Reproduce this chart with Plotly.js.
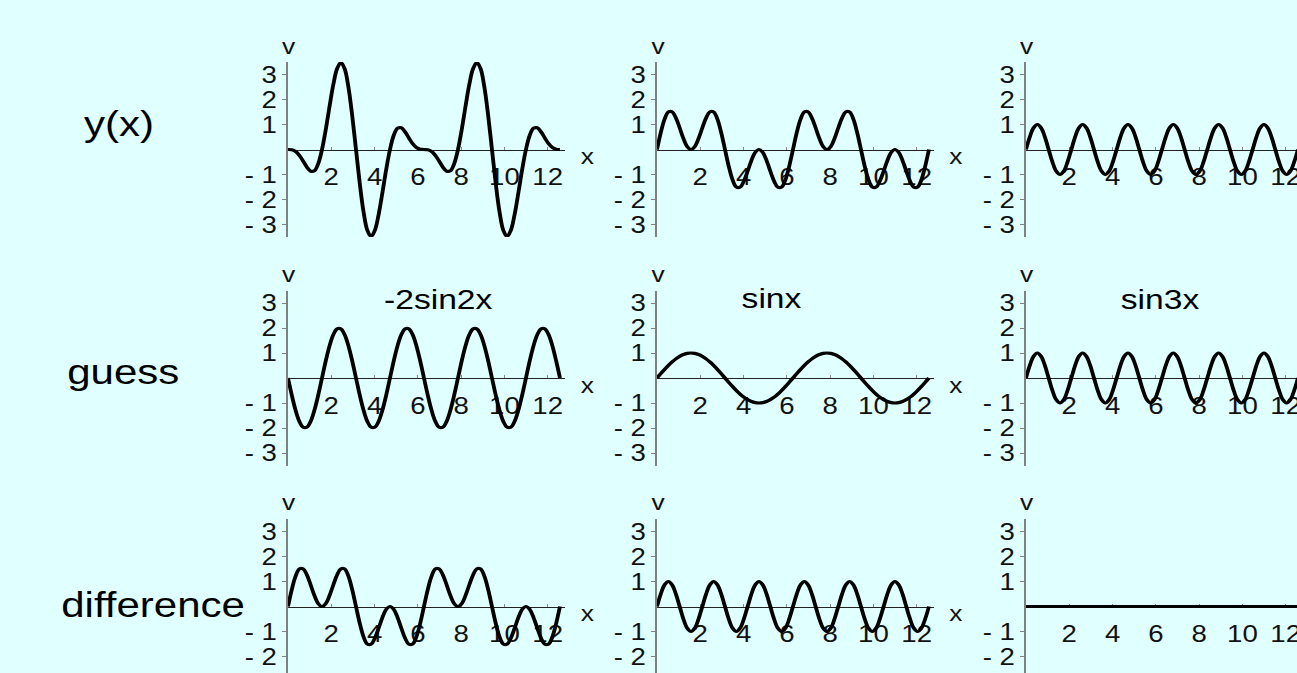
<!DOCTYPE html>
<html>
<head>
<meta charset="utf-8">
<script src="https://cdn.plot.ly/plotly-3.0.1.min.js"></script>
<style>
  html, body { margin: 0; padding: 0; overflow: hidden; background: #E0FFFF; }
  #chart { width: 1100px; height: 700px; transform: scaleX(1.2); transform-origin: 0 0; }
</style>
</head>
<body>
<div id="chart"></div>
<script>
// ---------- data (x in radians, 0 .. 4*pi) ----------
const xVals = [
  0, 0.1745, 0.3491, 0.5236, 0.6981, 0.8727, 1.0472, 1.2217, 1.3963, 1.5708,
  1.7453, 1.9199, 2.0944, 2.2689, 2.4435, 2.6180, 2.7925, 2.9671, 3.1416, 3.3161,
  3.4907, 3.6652, 3.8397, 4.0143, 4.1888, 4.3633, 4.5379, 4.7124, 4.8869, 5.0615,
  5.2360, 5.4105, 5.5851, 5.7596, 5.9341, 6.1087, 6.2832, 6.4577, 6.6323, 6.8068,
  6.9813, 7.1558, 7.3304, 7.5049, 7.6794, 7.8540, 8.0285, 8.2030, 8.3776, 8.5521,
  8.7266, 8.9012, 9.0757, 9.2502, 9.4248, 9.5993, 9.7738, 9.9484, 10.1229, 10.2974,
  10.4720, 10.6465, 10.8210, 10.9956, 11.1701, 11.3446, 11.5192, 11.6937, 11.8682, 12.0428,
  12.2173, 12.3918, 12.5664
];

// y(x)
const yOfX = [
  0, -0.0104, -0.0776, -0.2320, -0.4608, -0.7036, -0.8660, -0.8459, -0.5652, 0,
  0.8028, 1.7253, 2.5980, 3.2356, 3.4784, 3.2320, 2.4936, 1.3576, 0, -1.3576,
  -2.4936, -3.2320, -3.4784, -3.2356, -2.5980, -1.7253, -0.8028, 0, 0.5652, 0.8459,
  0.8660, 0.7036, 0.4608, 0.2320, 0.0776, 0.0104, 0, -0.0104, -0.0776, -0.2320,
  -0.4608, -0.7036, -0.8660, -0.8459, -0.5652, 0, 0.8028, 1.7253, 2.5980, 3.2356,
  3.4784, 3.2320, 2.4936, 1.3576, 0, -1.3576, -2.4936, -3.2320, -3.4784, -3.2356,
  -2.5980, -1.7253, -0.8028, 0, 0.5652, 0.8459, 0.8660, 0.7036, 0.4608, 0.2320,
  0.0776, 0.0104, 0
];

// guess 1: -2sin2x
const guessMinus2sin2x = [
  0, -0.6840, -1.2856, -1.7321, -1.9696, -1.9696, -1.7321, -1.2856, -0.6840, 0,
  0.6840, 1.2856, 1.7321, 1.9696, 1.9696, 1.7321, 1.2856, 0.6840, 0, -0.6840,
  -1.2856, -1.7321, -1.9696, -1.9696, -1.7321, -1.2856, -0.6840, 0, 0.6840, 1.2856,
  1.7321, 1.9696, 1.9696, 1.7321, 1.2856, 0.6840, 0, -0.6840, -1.2856, -1.7321,
  -1.9696, -1.9696, -1.7321, -1.2856, -0.6840, 0, 0.6840, 1.2856, 1.7321, 1.9696,
  1.9696, 1.7321, 1.2856, 0.6840, 0, -0.6840, -1.2856, -1.7321, -1.9696, -1.9696,
  -1.7321, -1.2856, -0.6840, 0, 0.6840, 1.2856, 1.7321, 1.9696, 1.9696, 1.7321,
  1.2856, 0.6840, 0
];

// guess 2: sinx
const guessSinx = [
  0, 0.1736, 0.3420, 0.5, 0.6428, 0.7660, 0.8660, 0.9397, 0.9848, 1,
  0.9848, 0.9397, 0.8660, 0.7660, 0.6428, 0.5, 0.3420, 0.1736, 0, -0.1736,
  -0.3420, -0.5, -0.6428, -0.7660, -0.8660, -0.9397, -0.9848, -1, -0.9848, -0.9397,
  -0.8660, -0.7660, -0.6428, -0.5, -0.3420, -0.1736, 0, 0.1736, 0.3420, 0.5,
  0.6428, 0.7660, 0.8660, 0.9397, 0.9848, 1, 0.9848, 0.9397, 0.8660, 0.7660,
  0.6428, 0.5, 0.3420, 0.1736, 0, -0.1736, -0.3420, -0.5, -0.6428, -0.7660,
  -0.8660, -0.9397, -0.9848, -1, -0.9848, -0.9397, -0.8660, -0.7660, -0.6428, -0.5,
  -0.3420, -0.1736, 0
];

// guess 3: sin3x
const guessSin3x = [
  0, 0.5, 0.8660, 1, 0.8660, 0.5, 0, -0.5, -0.8660, -1,
  -0.8660, -0.5, 0, 0.5, 0.8660, 1, 0.8660, 0.5, 0, -0.5,
  -0.8660, -1, -0.8660, -0.5, 0, 0.5, 0.8660, 1, 0.8660, 0.5,
  0, -0.5, -0.8660, -1, -0.8660, -0.5, 0, 0.5, 0.8660, 1,
  0.8660, 0.5, 0, -0.5, -0.8660, -1, -0.8660, -0.5, 0, 0.5,
  0.8660, 1, 0.8660, 0.5, 0, -0.5, -0.8660, -1, -0.8660, -0.5,
  0, 0.5, 0.8660, 1, 0.8660, 0.5, 0, -0.5, -0.8660, -1,
  -0.8660, -0.5, 0
];

// difference after first guess: y(x) - (-2sin2x)
const diffAfterGuess1 = [
  0, 0.6736, 1.2080, 1.5, 1.5088, 1.2660, 0.8660, 0.4397, 0.1188, 0,
  0.1188, 0.4397, 0.8660, 1.2660, 1.5088, 1.5, 1.2080, 0.6736, 0, -0.6736,
  -1.2080, -1.5, -1.5088, -1.2660, -0.8660, -0.4397, -0.1188, 0, -0.1188, -0.4397,
  -0.8660, -1.2660, -1.5088, -1.5, -1.2080, -0.6736, 0, 0.6736, 1.2080, 1.5,
  1.5088, 1.2660, 0.8660, 0.4397, 0.1188, 0, 0.1188, 0.4397, 0.8660, 1.2660,
  1.5088, 1.5, 1.2080, 0.6736, 0, -0.6736, -1.2080, -1.5, -1.5088, -1.2660,
  -0.8660, -0.4397, -0.1188, 0, -0.1188, -0.4397, -0.8660, -1.2660, -1.5088, -1.5,
  -1.2080, -0.6736, 0
];

// difference after second guess: equals sin3x
const diffAfterGuess2 = guessSin3x;

// difference after third guess: zero
const diffAfterGuess3X = [0, 12.5664];
const diffAfterGuess3 = [0, 0];

const rowLabels = ["y(x)", "guess", "difference"];
const guessLabels = ["-2sin2x", "sinx", "sin3x"];
const xTickVals = [2, 4, 6, 8, 10, 12];
const xTickText = ["2", "4", "6", "8", "10", "12"];
const yTickVals = [-3, -2, -1, 1, 2, 3];
const yTickText = ["- 3", "- 2", "- 1", "1", "2", "3"];

// ---------- layout helpers (visual pixel -> paper fraction) ----------
const VW = 1320, VH = 700;
const fx = px => px / VW;
const fy = py => 1 - py / VH;

const colX = [288, 657, 1026];
const rowTop = [62, 290.5, 519];
const PW = 277, PH = 175;
const FONT = "Liberation Sans, Arial, Helvetica, sans-serif";

const panels = [
  [[xVals, yOfX], [xVals, diffAfterGuess1], [xVals, diffAfterGuess2]],
  [[xVals, guessMinus2sin2x], [xVals, guessSinx], [xVals, guessSin3x]],
  [[xVals, diffAfterGuess1], [xVals, diffAfterGuess2], [diffAfterGuess3X, diffAfterGuess3]]
];

const traces = [];
const layout = {
  width: 1100, height: 700,
  margin: {l: 0, r: 0, t: 0, b: 0},
  paper_bgcolor: "#E0FFFF",
  plot_bgcolor: "rgba(0,0,0,0)",
  showlegend: false,
  font: {family: FONT, color: "#000"},
  annotations: []
};

let n = 0;
for (let r = 0; r < 3; r++) {
  for (let c = 0; c < 3; c++) {
    n++;
    const xa = n === 1 ? "xaxis" : "xaxis" + n;
    const ya = n === 1 ? "yaxis" : "yaxis" + n;
    const xr = n === 1 ? "x" : "x" + n;
    const yr = n === 1 ? "y" : "y" + n;
    const zeroY = rowTop[r] + PH / 2;
    layout[xa] = {
      domain: [fx(colX[c]), fx(colX[c] + PW)],
      range: [0, 12.8],
      anchor: "free",
      position: fy(zeroY),
      showline: true, linecolor: "#222", linewidth: 1,
      showgrid: false, zeroline: false,
      tickmode: "array", tickvals: xTickVals, ticktext: xTickText,
      ticks: "inside", ticklen: 3, tickwidth: 1, tickcolor: "#888",
      ticklabelstandoff: 7,
      tickfont: {family: FONT, size: 23, color: "#111"},
      layer: "below traces",
      fixedrange: true
    };
    layout[ya] = {
      domain: [fy(rowTop[r] + PH), fy(rowTop[r])],
      range: [-3.5, 3.5],
      anchor: xr,
      showline: true, linecolor: "#808080", linewidth: 1.6,
      showgrid: false, zeroline: false,
      tickmode: "array", tickvals: yTickVals, ticktext: yTickText,
      ticks: "outside", ticklen: 3, tickwidth: 1, tickcolor: "#808080",
      tickfont: {family: FONT, size: 23, color: "#111"},
      layer: "below traces",
      fixedrange: true
    };
    const d = panels[r][c];
    traces.push({
      type: "scatter", mode: "lines",
      x: d[0], y: d[1],
      xaxis: xr, yaxis: yr,
      line: {color: "#000", width: 3.2, shape: "spline", smoothing: 1},
      hoverinfo: "skip"
    });
    // axis name labels
    layout.annotations.push({
      xref: "paper", yref: "paper", x: fx(colX[c] + 1), y: fy(rowTop[r] - 16),
      xanchor: "center", yanchor: "middle", showarrow: false,
      text: "v", font: {family: FONT, size: 22, color: "#111"}
    });
    if (c < 2) {
      layout.annotations.push({
        xref: "paper", yref: "paper", x: fx(colX[c] + 299), y: fy(zeroY + 7),
        xanchor: "center", yanchor: "middle", showarrow: false,
        text: "x", font: {family: FONT, size: 22, color: "#111"}
      });
    }
  }
}

// row labels
const rowLabelPos = [[119, 123], [122.5, 371], [153.5, 604.5]];
rowLabels.forEach((t, i) => {
  layout.annotations.push({
    xref: "paper", yref: "paper", x: fx(rowLabelPos[i][0]), y: fy(rowLabelPos[i][1]),
    xanchor: "center", yanchor: "middle", showarrow: false,
    text: t, font: {family: FONT, size: 35, color: "#000"}
  });
});

// guess titles
const guessPos = [[438, 299.5], [772, 298.5], [1160, 299]];
guessLabels.forEach((t, i) => {
  layout.annotations.push({
    xref: "paper", yref: "paper", x: fx(guessPos[i][0]), y: fy(guessPos[i][1]),
    xanchor: "center", yanchor: "middle", showarrow: false,
    text: t, font: {family: FONT, size: 28, color: "#000"}
  });
});

Plotly.newPlot("chart", traces, layout, {staticPlot: true, displayModeBar: false});
</script>
</body>
</html>
